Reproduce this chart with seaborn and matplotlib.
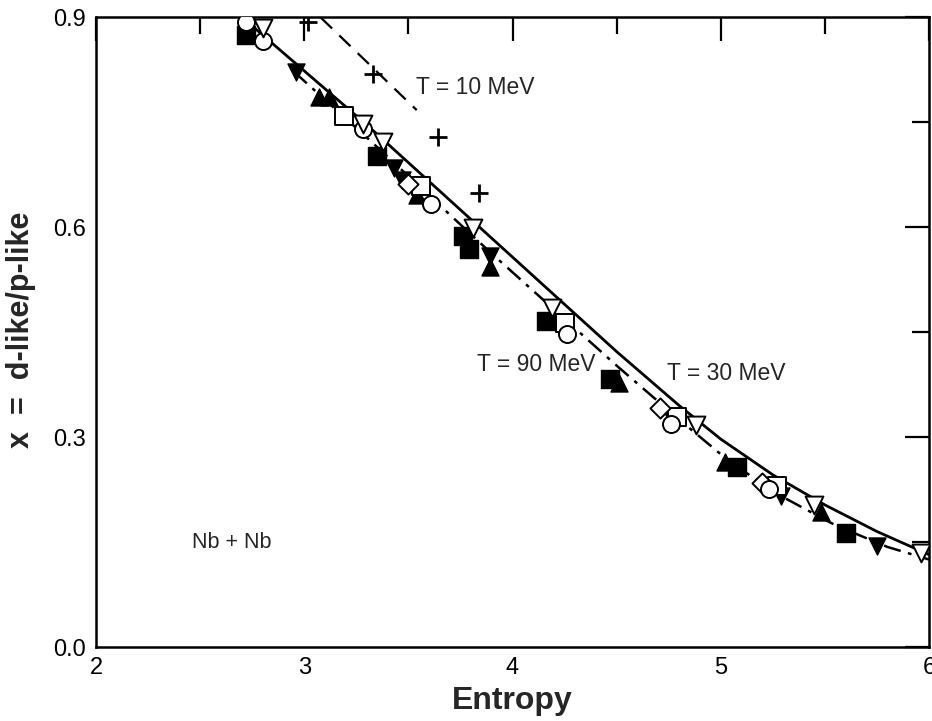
import matplotlib
matplotlib.use("Agg")
import matplotlib.pyplot as plt
import seaborn as sns
from matplotlib.ticker import MultipleLocator

# ---- data ----
solid_x = [2.70, 3.0, 3.3, 3.6, 3.9, 4.2, 4.5, 4.8, 5.0, 5.25, 5.5, 5.75, 6.0]
solid_y = [0.900, 0.823, 0.746, 0.665, 0.584, 0.503, 0.422, 0.345, 0.297, 0.246, 0.203, 0.165, 0.132]

dashdot_x = [2.95, 3.3, 3.6, 3.9, 4.2, 4.5, 4.8, 5.05, 5.3, 5.55, 5.8, 6.0]
dashdot_y = [0.822, 0.728, 0.645, 0.562, 0.482, 0.402, 0.325, 0.263, 0.214, 0.174, 0.143, 0.125]

dashed_x = [3.08, 3.54]
dashed_y = [0.899, 0.767]

fsq_x = [2.72, 3.35, 3.76, 3.79, 4.16, 4.47, 5.08, 5.60]
fsq_y = [0.874, 0.701, 0.587, 0.569, 0.466, 0.383, 0.257, 0.163]

fup_x = [3.07, 3.12, 3.54, 3.89, 4.51, 5.02, 5.48]
fup_y = [0.786, 0.786, 0.646, 0.543, 0.377, 0.264, 0.193]

fdn_x = [2.96, 3.43, 3.47, 3.89, 4.77, 5.29, 5.75]
fdn_y = [0.821, 0.684, 0.667, 0.559, 0.323, 0.216, 0.144]

odn_x = [2.80, 3.28, 3.38, 3.81, 4.19, 4.88, 5.45, 5.96]
odn_y = [0.884, 0.747, 0.721, 0.599, 0.484, 0.317, 0.203, 0.134]

ocir_x = [2.72, 2.80, 3.28, 3.61, 4.26, 4.76, 5.23]
ocir_y = [0.893, 0.866, 0.740, 0.633, 0.447, 0.319, 0.226]

osq_x = [3.19, 3.56, 4.25, 4.79, 5.27]
osq_y = [0.759, 0.659, 0.463, 0.329, 0.230]

odia_x = [3.50, 4.71, 5.20]
odia_y = [0.662, 0.341, 0.234]

plus_x = [3.02, 3.33, 3.64, 3.84]
plus_y = [0.893, 0.819, 0.729, 0.649]

xticks = [2, 3, 4, 5, 6]
yticks = [0.0, 0.3, 0.6, 0.9]
ytick_labels = ["0.0", "0.3", "0.6", "0.9"]

# ---- figure ----
sns.set_style("white")
plt.rcParams["font.family"] = ["Liberation Sans", "DejaVu Sans"]

fig = plt.figure(figsize=(9.32, 7.21), dpi=100)
ax = fig.add_axes([96 / 932, 1 - 647 / 721, (929 - 96) / 932, (647 - 17) / 721])

sns.lineplot(x=solid_x, y=solid_y, ax=ax, color="black", lw=2.0, sort=False)
sns.lineplot(x=dashdot_x, y=dashdot_y, ax=ax, color="black", lw=1.8,
             sort=False, linestyle=(0, (7, 3, 1.5, 3)))
sns.lineplot(x=dashed_x, y=dashed_y, ax=ax, color="black", lw=1.6,
             sort=False, linestyle=(0, (7, 4.5)))

ms = 150
sns.scatterplot(x=fsq_x, y=fsq_y, ax=ax, marker="s", s=ms, color="black",
                edgecolor="black", linewidth=1, zorder=3)
sns.scatterplot(x=fup_x, y=fup_y, ax=ax, marker="^", s=ms, color="black",
                edgecolor="black", linewidth=1, zorder=3)
sns.scatterplot(x=fdn_x, y=fdn_y, ax=ax, marker="v", s=ms, color="black",
                edgecolor="black", linewidth=1, zorder=3)
sns.scatterplot(x=osq_x, y=osq_y, ax=ax, marker="s", s=ms, color="white",
                edgecolor="black", linewidth=1.4, zorder=4)
sns.scatterplot(x=odia_x, y=odia_y, ax=ax, marker="D", s=ms * 0.7, color="white",
                edgecolor="black", linewidth=1.4, zorder=4)
sns.scatterplot(x=ocir_x, y=ocir_y, ax=ax, marker="o", s=ms, color="white",
                edgecolor="black", linewidth=1.4, zorder=4)
sns.scatterplot(x=odn_x, y=odn_y, ax=ax, marker="v", s=ms * 1.1, color="white",
                edgecolor="black", linewidth=1.4, zorder=4)
sns.scatterplot(x=plus_x, y=plus_y, ax=ax, marker="+", s=ms * 1.2, color="black",
                linewidth=2.0, zorder=4)

ax.set_xlim(2, 6)
ax.set_ylim(0, 0.9)
ax.set_xticks(xticks)
ax.set_xticklabels([str(t) for t in xticks])
ax.set_yticks(yticks)
ax.set_yticklabels(ytick_labels)
ax.xaxis.set_minor_locator(MultipleLocator(0.5))
ax.yaxis.set_minor_locator(MultipleLocator(0.15))

ax.tick_params(which="both", direction="in", top=True, right=True,
               width=1.6, colors="black")
ax.tick_params(which="major", length=17, labelsize=17, pad=7)
ax.tick_params(which="minor", length=12)
for sp in ax.spines.values():
    sp.set_linewidth(1.8)
    sp.set_color("black")

ax.set_xlabel("Entropy", fontsize=23, fontweight="bold")
ax.xaxis.set_label_coords(0.5, -0.062)
ax.set_ylabel("x  =  d-like/p-like", fontsize=22, fontweight="bold")
ax.yaxis.set_label_coords(-0.072, 0.503)

ax.text(3.535, 0.80, "T = 10 MeV", fontsize=16.5, ha="left", va="center")
ax.text(3.83, 0.403, "T = 90 MeV", fontsize=16.5, ha="left", va="center")
ax.text(4.74, 0.391, "T = 30 MeV", fontsize=16.5, ha="left", va="center")
ax.text(2.46, 0.149, "Nb + Nb", fontsize=15.5, ha="left", va="center")

fig.savefig("out.png", dpi=100)
